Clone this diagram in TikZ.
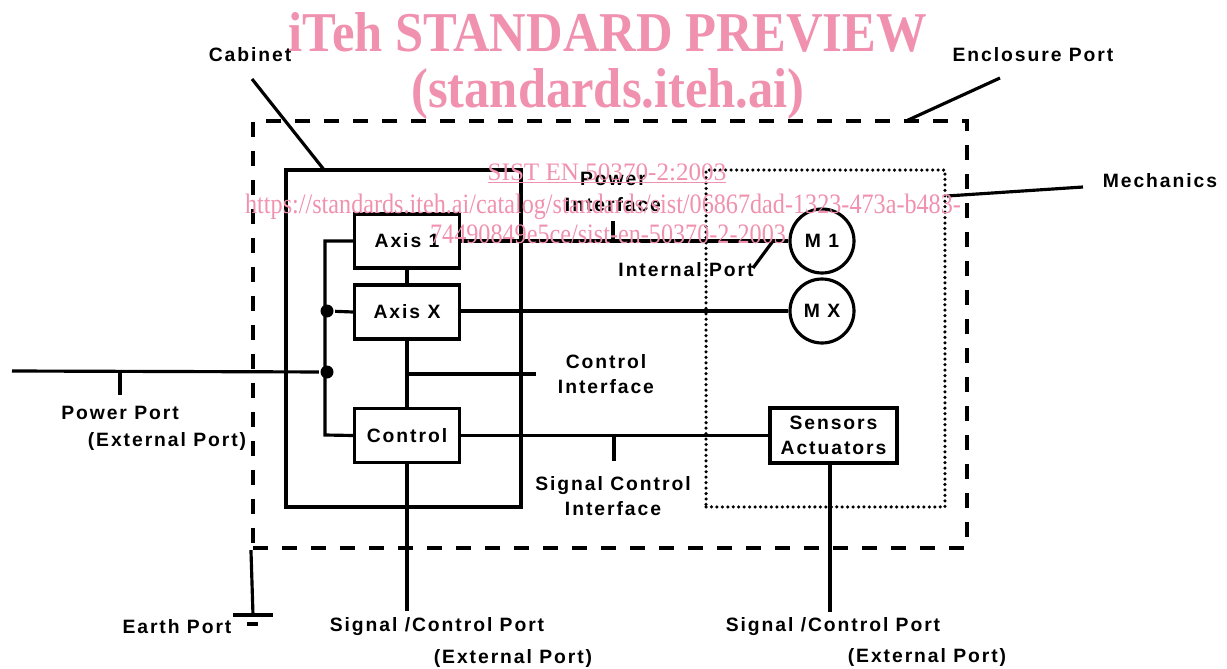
\documentclass[tikz,border=0pt]{standalone}
\usepackage{fontspec}
\setmainfont{Liberation Sans}
\newfontfamily\lblfont[LetterSpace=10]{Liberation Sans}
\newfontfamily\wmfont{Liberation Serif}
\usetikzlibrary{positioning}
\definecolor{wmpink}{RGB}{240,145,175}

\begin{document}
\begin{tikzpicture}[x=0.02cm, y=-0.02cm, line width=1.8pt,
    lbl/.style={font=\lblfont\bfseries\fontsize{11}{14.5}\selectfont, inner sep=1pt, align=center},
    unit/.style={draw, lbl, minimum width=2.1cm, minimum height=1.08cm, inner sep=0pt},
    motor/.style={draw, circle, lbl, minimum size=1.28cm, inner sep=0pt},
    dot/.style={circle, fill, inner sep=0pt, minimum size=0.26cm},
    wm/.style={text=wmpink, inner sep=0pt, anchor=base}]
  \useasboundingbox (0,0) rectangle (1227,669);
  % frames
  \node[draw, line width=2.4pt, dash pattern=on 8.5pt off 8pt, minimum width=14.28cm, minimum height=8.54cm] (encl) at (610,334.5) {};
  \node[draw, minimum width=4.7cm, minimum height=6.74cm] (cab) at (403.5,338.5) {};
  \node[draw, line width=2pt, line cap=round, dash pattern=on 0pt off 3.1pt, minimum width=4.78cm, minimum height=6.74cm] (mech) at (825.5,338.5) {};
  % units
  \node[unit] (axis1) at (407,241) {Axis 1};
  \node[unit] (axisx) at (407,312) {Axis X};
  \node[unit] (ctrl) at (407,435.5) {Control};
  \node[unit, minimum width=2.54cm, minimum height=1.1cm] (sens) at (833.5,435.5) {Sensors\\Actuators};
  \node[motor] (m1) at (822,241) {M 1};
  \node[motor] (mx) at (822,311) {M X};
  \node[dot] (dotx) at (327,311) {};
  \node[dot] (dotp) at (327,372) {};
  % labels
  \node[lbl] (cablbl) at (250,55) {Cabinet};
  \node[lbl] (enclbl) at (1033,55) {Enclosure Port};
  \node[lbl] (mechlbl) at (1160,181) {Mechanics};
  \node[lbl] (pilbl) at (613,192) {Power\\Interface};
  \node[lbl] (iplbl) at (686,270) {Internal Port};
  \node[lbl] (cilbl) at (606,374) {Control\\Interface};
  \node[lbl] (scilbl) at (613,496) {Signal Control\\Interface};
  \node[lbl] (pplbl) at (120,413) {Power Port};
  \node[lbl] (pplbl2) at (167,441) {(External Port)};
  \node[lbl] (eplbl) at (177,627) {Earth Port};
  \node[lbl] (sp1lbl) at (437,627) {Signal /Control Port};
  \node[lbl] (sp1lbl2) at (513,658) {(External Port)};
  \node[lbl] (sp2lbl) at (833,627) {Signal /Control Port};
  \node[lbl] (sp2lbl2) at (927,657) {(External Port)};
  % free ends
  \coordinate (cabfoot) at (252,79);
  \coordinate (cabtip) at (325,171);
  \coordinate (enclfoot) at (1000,78);
  \coordinate (encltip) at (906,121);
  \coordinate (mechfoot) at (1083,187);
  \coordinate (mechtip) at (947,196);
  \coordinate (ipfoot) at (753,268);
  \coordinate (iptip) at (773,241);
  \coordinate (pwrend) at (12,371);
  \coordinate (pptick) at (120,371);
  \coordinate (pitick) at (613,241);
  \coordinate (scitick) at (614,435);
  \coordinate (citap) at (407,374);
  \coordinate (ciend) at (536,374);
  \coordinate (bustop) at (325,241);
  \coordinate (busbot) at (325,435);
  \coordinate (earth) at (253,615);
  \coordinate (sp1) at (407,611);
  \coordinate (sp2) at (830,612);
  % leaders
  \draw (cabfoot) -- (cabtip);
  \draw (enclfoot) -- (encltip);
  \draw (mechfoot) -- (mechtip);
  \draw (ipfoot) -- (iptip);
  % wiring
  \draw (pwrend) -- (dotp);
  \draw (pptick) -- ++(0,24);
  \draw (axis1.west) -- (bustop) -- (busbot) -- (ctrl.west);
  \draw (dotx) -- (axisx.west);
  \draw (axis1.south) -- (axisx.north);
  \draw (axisx.south) -- (ctrl.north);
  \draw (citap) -- (ciend);
  \draw (axis1.east) -- (m1.west);
  \draw (pitick) -- ++(0,-20);
  \draw (axisx.east |- mx.west) -- (mx.west);
  \draw (ctrl.east) -- (sens.west);
  \draw (scitick) -- ++(0,26);
  \draw (ctrl.south) -- (sp1);
  \draw (sens.south -| sp2) -- (sp2);
  \draw (encl.south west) -- (earth);
  \draw ([xshift=-0.4cm]earth) -- ([xshift=0.4cm]earth);
  \draw ([xshift=-0.12cm,yshift=-0.18cm]earth) -- ([xshift=0.1cm,yshift=-0.18cm]earth);
  % watermark
  \node[wm, font=\wmfont\bfseries\fontsize{32}{34}\selectfont, xscale=0.9] (wm1) at (608,52) {iTeh STANDARD PREVIEW};
  \node[wm, font=\wmfont\bfseries\fontsize{32}{34}\selectfont, xscale=0.9] (wm2) at (608,108) {(standards.iteh.ai)};
  \node[wm, font=\wmfont\fontsize{14.3}{16}\selectfont] (wm3) at (607,180) {\underline{SIST EN 50370-2:2003}};
  \node[wm, font=\wmfont\fontsize{16}{18}\selectfont, xscale=0.86] (wm4) at (603,213) {https://standards.iteh.ai/catalog/standards/sist/06867dad-1323-473a-b483-};
  \node[wm, font=\wmfont\fontsize{16}{18}\selectfont, xscale=0.86] (wm5) at (608,243) {74490849e5ce/sist-en-50370-2-2003};
\end{tikzpicture}
\end{document}
